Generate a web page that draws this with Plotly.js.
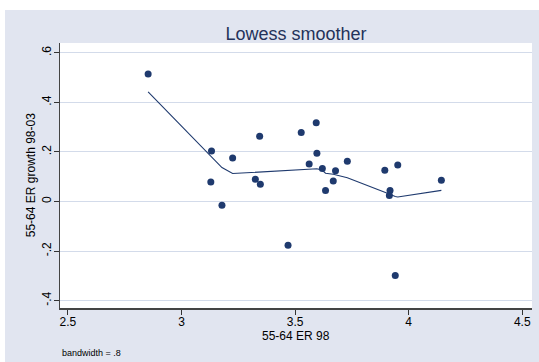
<!DOCTYPE html>
<html>
<head>
<meta charset="utf-8">
<script src="https://cdn.plot.ly/plotly-3.0.1.min.js"></script>
<style>
html,body{margin:0;padding:0;background:#ffffff;width:539px;height:362px;overflow:hidden;}
#chart{position:absolute;left:5px;top:10px;width:534px;height:352px;}
</style>
</head>
<body>
<div id="chart"></div>
<script>
// Scatter data: 55-64 ER 98 (x) vs 55-64 ER growth 98-03 (y)
const er98 = [2.853, 3.132, 3.129, 3.178, 3.225, 3.344, 3.325, 3.347, 3.469, 3.527, 3.593, 3.596,
              3.562, 3.620, 3.678, 3.668, 3.634, 3.730, 3.895, 3.952, 3.918, 3.915, 3.941, 4.144];
const growth = [0.515, 0.204, 0.079, -0.015, 0.176, 0.263, 0.090, 0.070, -0.177, 0.279, 0.318, 0.195,
                0.151, 0.133, 0.124, 0.083, 0.044, 0.163, 0.126, 0.147, 0.044, 0.024, -0.299, 0.086];

// Lowess smoothed values (bandwidth .8) at sorted x
const lowessX = [2.853, 3.129, 3.132, 3.178, 3.225, 3.325, 3.344, 3.347, 3.469, 3.527, 3.562, 3.593,
                 3.596, 3.620, 3.634, 3.668, 3.678, 3.730, 3.895, 3.915, 3.918, 3.941, 3.952, 4.144];
const lowessY = [0.443, 0.186, 0.182, 0.137, 0.113, 0.118, 0.121, 0.122, 0.127, 0.131, 0.132, 0.133,
                 0.132, 0.126, 0.114, 0.110, 0.108, 0.096, 0.037, 0.029, 0.028, 0.020, 0.018, 0.045];

const xTickVals = [2.5, 3, 3.5, 4, 4.5];
const xTickText = ["2.5", "3", "3.5", "4", "4.5"];
const yTickVals = [-0.4, -0.2, 0, 0.2, 0.4, 0.6];
const yTickText = ["-.4", "-.2", "0", ".2", ".4", ".6"];

const navy = "#1f3a6e";
const font = "Liberation Sans, Arial, sans-serif";

const traces = [
  {
    x: er98, y: growth, type: "scatter", mode: "markers",
    marker: {color: navy, size: 7, line: {width: 0}},
    hoverinfo: "skip", showlegend: false
  },
  {
    x: lowessX, y: lowessY, type: "scatter", mode: "lines",
    line: {color: navy, width: 1.1},
    hoverinfo: "skip", showlegend: false
  }
];

const layout = {
  width: 534, height: 352,
  paper_bgcolor: "#e1e5f0",
  plot_bgcolor: "#ffffff",
  margin: {l: 55, r: 7, t: 33, b: 54, pad: 0},
  font: {family: font, size: 12, color: "#000000"},
  title: {
    text: "Lowess smoother",
    font: {family: font, size: 18, color: "#24325a"},
    x: 0.5, xref: "paper", xanchor: "center",
    y: 0.933, yref: "container", yanchor: "middle"
  },
  xaxis: {
    range: [2.465, 4.543],
    tickvals: xTickVals, ticktext: xTickText,
    ticks: "outside", ticklen: 5, tickwidth: 1, tickcolor: "#333333",
    ticklabelstandoff: -3,
    showline: true, linecolor: "#444444", linewidth: 1.5,
    showgrid: false, zeroline: false,
    tickfont: {family: font, size: 12, color: "#000000"},
    automargin: false
  },
  yaxis: {
    range: [-0.430, 0.640],
    tickvals: yTickVals, ticktext: yTickText,
    tickangle: -90,
    ticks: "outside", ticklen: 5, tickwidth: 1, tickcolor: "#333333",
    ticklabelstandoff: -2,
    showline: true, linecolor: "#444444", linewidth: 1.5,
    showgrid: true, gridcolor: "#d3dbea", gridwidth: 1,
    zeroline: false,
    tickfont: {family: font, size: 12, color: "#000000"},
    automargin: false
  },
  annotations: [
    {
      text: "55-64 ER 98", xref: "paper", yref: "paper",
      x: 0.5, y: -0.107, xanchor: "center", yanchor: "middle",
      showarrow: false, font: {family: font, size: 12, color: "#000000"}
    },
    {
      text: "55-64 ER growth 98-03", xref: "paper", yref: "paper",
      x: -0.062, y: 0.5, xanchor: "center", yanchor: "middle", textangle: -90,
      showarrow: false, font: {family: font, size: 12, color: "#000000"}
    },
    {
      text: "bandwidth = .8", xref: "paper", yref: "paper",
      x: 0, y: -0.171, xanchor: "left", yanchor: "middle",
      showarrow: false, font: {family: font, size: 9, color: "#000000"}
    }
  ]
};

Plotly.newPlot("chart", traces, layout, {displayModeBar: false, staticPlot: true});
</script>
</body>
</html>
